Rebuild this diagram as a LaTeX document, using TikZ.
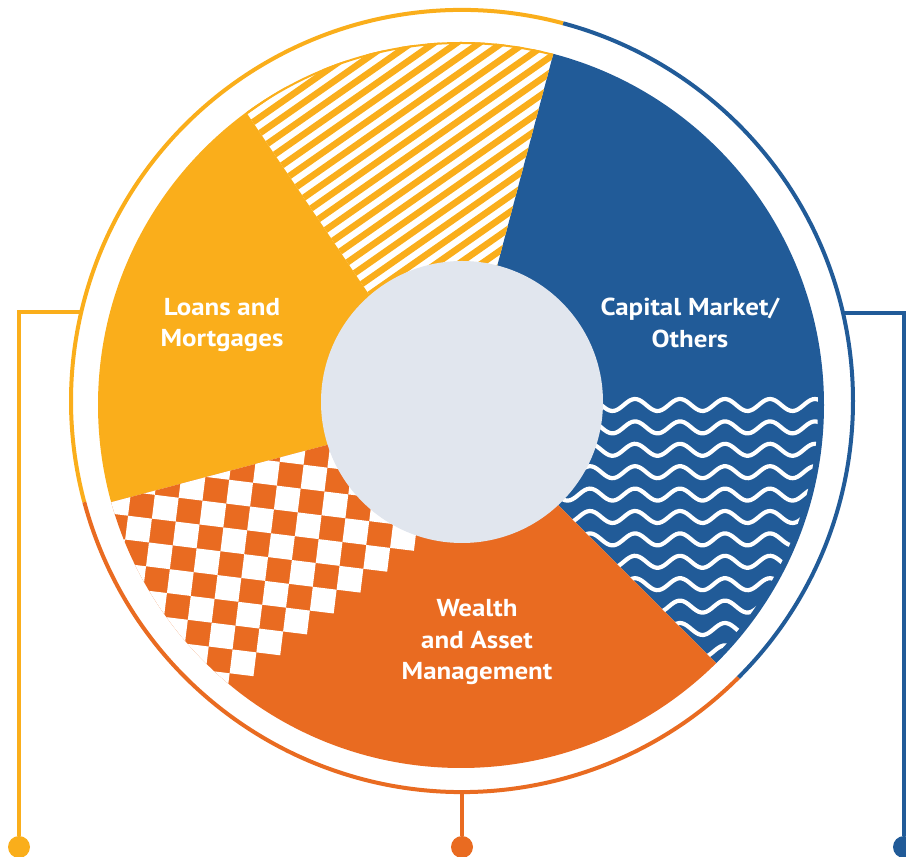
\documentclass[tikz,border=0pt]{standalone}
\usepackage{fontspec}
\setmainfont{PT Sans}[FakeStretch=1.1]
\usetikzlibrary{calc}
\definecolor{loanyellow}{HTML}{FAAE1B}
\definecolor{wealthorange}{HTML}{E96B21}
\definecolor{capitalblue}{HTML}{215B98}
\definecolor{hubgray}{HTML}{E1E6EE}

\begin{document}
\begin{tikzpicture}[x=1pt,y=1pt]
        \tikzstyle{ring}=[line width=4pt]
        \tikzstyle{lead}=[line width=4pt]
        \tikzstyle{enddot}=[circle,inner sep=0pt,minimum size=22pt]
        \tikzstyle{stripe}=[loanyellow,line width=6.5pt]
        \tikzstyle{wave}=[white,line width=4.2pt]
        \tikzstyle{segtext}=[text=white,align=center,font=\bfseries\fontsize{24.5}{31.5}\selectfont]
        \useasboundingbox (0,0) rectangle (906,857);
        % centres
        \coordinate (rc) at (462,456);
        \coordinate (pc) at (461,452);
        \coordinate (o) at (462,455);
        % slice borders
        \coordinate (ain) at (470.5,490);   \coordinate (afar) at (635.5,1114);
        \coordinate (bin) at (428,475);     \coordinate (bfar) at (68,1009);
        \coordinate (din) at (434.5,440.5); \coordinate (dfar) at (-103,298);
        \coordinate (ein) at (482,428);     \coordinate (efar) at (1028,-118);
        % outer ring
        \draw[ring,loanyellow] ($(rc)+(75:391)$) arc[start angle=75,end angle=195,radius=391];
        \draw[ring,wealthorange] ($(rc)+(195:391)$) arc[start angle=195,end angle=315,radius=391];
        \draw[ring,capitalblue] ($(rc)+(315:391)$) arc[start angle=315,end angle=435,radius=391];
        % leads
        \coordinate (loanring) at ($(rc)+(166.8:391)$);
        \coordinate (capring) at ($(rc)+(13:391)$);
        \coordinate (wealthring) at ($(rc)+(270:391)$);
        \node[enddot,fill=loanyellow] (loandot) at (19,10) {};
        \node[enddot,fill=wealthorange] (wealthdot) at (462,10) {};
        \node[enddot,fill=capitalblue] (capdot) at (904,10) {};
        \draw[lead,loanyellow] (loanring) -| (loandot);
        \draw[lead,capitalblue] (capring) -| (capdot);
        \draw[lead,wealthorange] (wealthring) -- (wealthdot);
        % pie
        \begin{scope}
          \clip (pc) circle (363);
          \fill[capitalblue] (o) -- (ain) -- (afar) -- (1100,1114) -- (1100,-118) -- (efar) -- (ein) -- cycle;
          \fill[loanyellow] (o) -- (din) -- (dfar) -- (bfar) -- (bin) -- cycle;
          \fill[wealthorange] (o) -- (ein) -- (efar) -- (-103,-118) -- (dfar) -- (din) -- cycle;
          \begin{scope}
            \clip (o) -- (bin) -- (bfar) -- (afar) -- (ain) -- cycle;
            \begin{scope}[shift={(pc)},rotate=35]
              \foreach \k in {-35,...,35}
                \draw[stripe] (-450,\k*13) -- (450,\k*13);
            \end{scope}
            \draw[loanyellow,line width=2pt] (pc) circle (362);
          \end{scope}
          \begin{scope}
            \clip (o) -- (ein) -- (efar) -- (-103,-118) -- (dfar) -- (din) -- cycle;
            \begin{scope}[shift={(390.1,309.1)},rotate=-7]
              \foreach \d in {0,-2,...,-24}
                \foreach \j in {-16,...,16}
                  \fill[white] ({(\j+\d)*24},{\j*24}) -- ++(24,0) -- ++(0,24) -- ++(-24,0) -- cycle;
            \end{scope}
          \end{scope}
          \begin{scope}
            \clip (o) -- (ain) -- (afar) -- (1100,1114) -- (1100,-118) -- (efar) -- (ein) -- cycle;
            \clip (pc) circle (357);
            \foreach \k in {0,...,12}
              \draw[wave] plot[domain=560:830,samples=110] (\x,{452-22.4*\k+6*cos(8*(\x-635))});
          \end{scope}
        \end{scope}
        \fill[hubgray] (o) circle (141);
        % texts
        \node[segtext] (loans) at (222,532) {Loans and\\Mortgages};
        \node[segtext] (capital) at (690,534) {Capital Market/\\Others};
        \node[segtext] (wealth) at (477,214.5) {Wealth\\and Asset\\Management};
\end{tikzpicture}
\end{document}
